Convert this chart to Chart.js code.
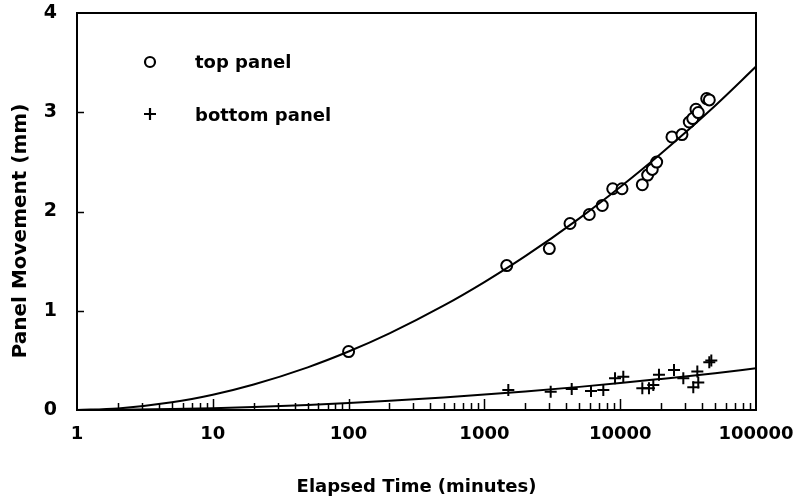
<!DOCTYPE html>
<html>
<head>
<meta charset="utf-8">
<script src="https://cdn.jsdelivr.net/npm/chart.js@4/dist/chart.umd.min.js"></script>
<style>
  html, body { margin: 0; padding: 0; background: #fff; }
  #wrap { width: 795px; height: 501px; }
</style>
</head>
<body>
<div id="wrap"><canvas id="c" width="795" height="501"></canvas></div>
<script>
// ---- data ----
const xTickValues = [1, 10, 100, 1000, 10000, 100000];
const yTickValues = [0, 1, 2, 3, 4];
const xTitle = 'Elapsed Time (minutes)';
const yTitle = 'Panel Movement (mm)';
const seriesNames = ['top panel', 'bottom panel'];

// top panel observations (minutes, mm)
const topTime = [100, 1460, 3006, 4270, 5920, 7380, 8810, 10310, 14550, 15930, 17220, 18560, 24060, 28500, 32260, 34200, 36140, 37580, 43360, 45300];
const topMove = [0.589, 1.455, 1.626, 1.879, 1.970, 2.061, 2.229, 2.229, 2.270, 2.367, 2.424, 2.498, 2.751, 2.775, 2.902, 2.936, 3.030, 2.997, 3.138, 3.124];

// bottom panel observations (minutes, mm)
const bottomTime = [1500, 3077, 4395, 6095, 7510, 9160, 10540, 14550, 16290, 17530, 19300, 24900, 29160, 34530, 37580, 36980, 45300, 46870];
const bottomMove = [0.202, 0.185, 0.212, 0.192, 0.202, 0.320, 0.336, 0.219, 0.219, 0.253, 0.354, 0.404, 0.320, 0.229, 0.276, 0.387, 0.482, 0.498];

// fitted curves
const curveTime = [1, 2, 5, 10, 20, 50, 100, 200, 500, 1000, 2000, 5000, 10000, 20000, 50000, 100000];
const topCurve = [0, 0.015, 0.077, 0.154, 0.257, 0.430, 0.589, 0.772, 1.051, 1.289, 1.550, 1.931, 2.247, 2.585, 3.066, 3.460];
const bottomCurve = [0, 0.002, 0.009, 0.018, 0.030, 0.051, 0.070, 0.092, 0.126, 0.155, 0.187, 0.233, 0.271, 0.313, 0.371, 0.420];

// ---- build datasets ----
const toXY = (xs, ys) => xs.map((x, i) => ({ x: x, y: ys[i] }));

const FONT = 'DejaVu Sans';

const framePlugin = {
  id: 'frame',
  afterDatasetsDraw(chart) {
    const { ctx, chartArea: a, scales } = chart;
    const xs = scales.x, ys = scales.y;
    ctx.save();
    ctx.strokeStyle = '#000';
    ctx.lineWidth = 2;
    ctx.strokeRect(a.left, a.top, a.right - a.left, a.bottom - a.top);
    // inner minor ticks on the x axis
    ctx.lineWidth = 1.5;
    ctx.beginPath();
    for (let d = 1; d < 100000; d *= 10) {
      for (let m = 1; m <= 10; m++) {
        const v = d * m;
        if (v <= 1 || v >= 100000) continue;
        const px = Math.round(xs.getPixelForValue(v)) + 0.5;
        const len = (m === 10) ? 11 : 7;
        ctx.moveTo(px, a.bottom);
        ctx.lineTo(px, a.bottom - len);
      }
    }
    // inner ticks on the y axis
    yTickValues.forEach(v => {
      if (v <= 0 || v >= 4) return;
      const py = Math.round(ys.getPixelForValue(v)) + 0.5;
      ctx.moveTo(a.left, py);
      ctx.lineTo(a.left + 7, py);
    });
    ctx.stroke();

    // axis titles
    ctx.fillStyle = '#000';
    ctx.font = 'bold 18px "' + FONT + '"';
    ctx.textAlign = 'center';
    ctx.textBaseline = 'middle';
    ctx.fillText(xTitle, (a.left + a.right) / 2, 487);
    ctx.save();
    ctx.translate(21, 231);
    ctx.rotate(-Math.PI / 2);
    ctx.font = 'bold 20px "' + FONT + '"';
    ctx.fillText(yTitle, 0, 0);
    ctx.restore();

    // legend
    ctx.lineWidth = 2.2;
    ctx.beginPath();
    ctx.arc(150, 62, 5, 0, Math.PI * 2);
    ctx.stroke();
    ctx.beginPath();
    ctx.moveTo(144, 114); ctx.lineTo(156, 114);
    ctx.moveTo(150, 108); ctx.lineTo(150, 120);
    ctx.stroke();
    ctx.font = 'bold 18px "' + FONT + '"';
    ctx.textAlign = 'left';
    ctx.fillText(seriesNames[0], 195, 63);
    ctx.fillText(seriesNames[1], 195, 116);
    ctx.restore();
  }
};

new Chart(document.getElementById('c'), {
  type: 'scatter',
  data: {
    datasets: [
      {
        label: seriesNames[0] + ' fit',
        data: toXY(curveTime, topCurve),
        showLine: true, pointRadius: 0, borderColor: '#000', borderWidth: 2,
        cubicInterpolationMode: 'monotone', fill: false
      },
      {
        label: seriesNames[1] + ' fit',
        data: toXY(curveTime, bottomCurve),
        showLine: true, pointRadius: 0, borderColor: '#000', borderWidth: 2,
        cubicInterpolationMode: 'monotone', fill: false
      },
      {
        label: seriesNames[0],
        data: toXY(topTime, topMove),
        pointStyle: 'circle', pointRadius: 5.5, borderWidth: 2,
        borderColor: '#000', backgroundColor: '#fff'
      },
      {
        label: seriesNames[1],
        data: toXY(bottomTime, bottomMove),
        pointStyle: 'cross', pointRadius: 6, borderWidth: 2,
        borderColor: '#000', backgroundColor: '#000'
      }
    ]
  },
  options: {
    responsive: false,
    animation: false,
    layout: { padding: { top: 13, right: 39, left: 0, bottom: 0 } },
    plugins: { legend: { display: false }, tooltip: { enabled: false } },
    scales: {
      x: {
        type: 'logarithmic',
        min: 1, max: 100000,
        afterBuildTicks: s => { s.ticks = xTickValues.map(v => ({ value: v })); },
        afterFit: s => { s.height = 91; s.paddingLeft = 0; s.paddingRight = 0; },
        grid: { display: false, drawTicks: false },
        border: { display: false },
        ticks: {
          color: '#000', padding: 14, maxRotation: 0, autoSkip: false,
          font: { family: FONT, weight: 'bold', size: 18 },
          callback: v => String(v)
        }
      },
      y: {
        type: 'linear',
        min: 0, max: 4,
        afterBuildTicks: s => { s.ticks = yTickValues.map(v => ({ value: v })); },
        afterFit: s => { s.width = 77; s.paddingTop = 0; s.paddingBottom = 0; },
        grid: { display: false, drawTicks: false },
        border: { display: false },
        ticks: {
          color: '#000', padding: 20,
          font: { family: FONT, weight: 'bold', size: 19 },
          callback: v => String(v)
        }
      }
    }
  },
  plugins: [framePlugin]
});
</script>
</body>
</html>
